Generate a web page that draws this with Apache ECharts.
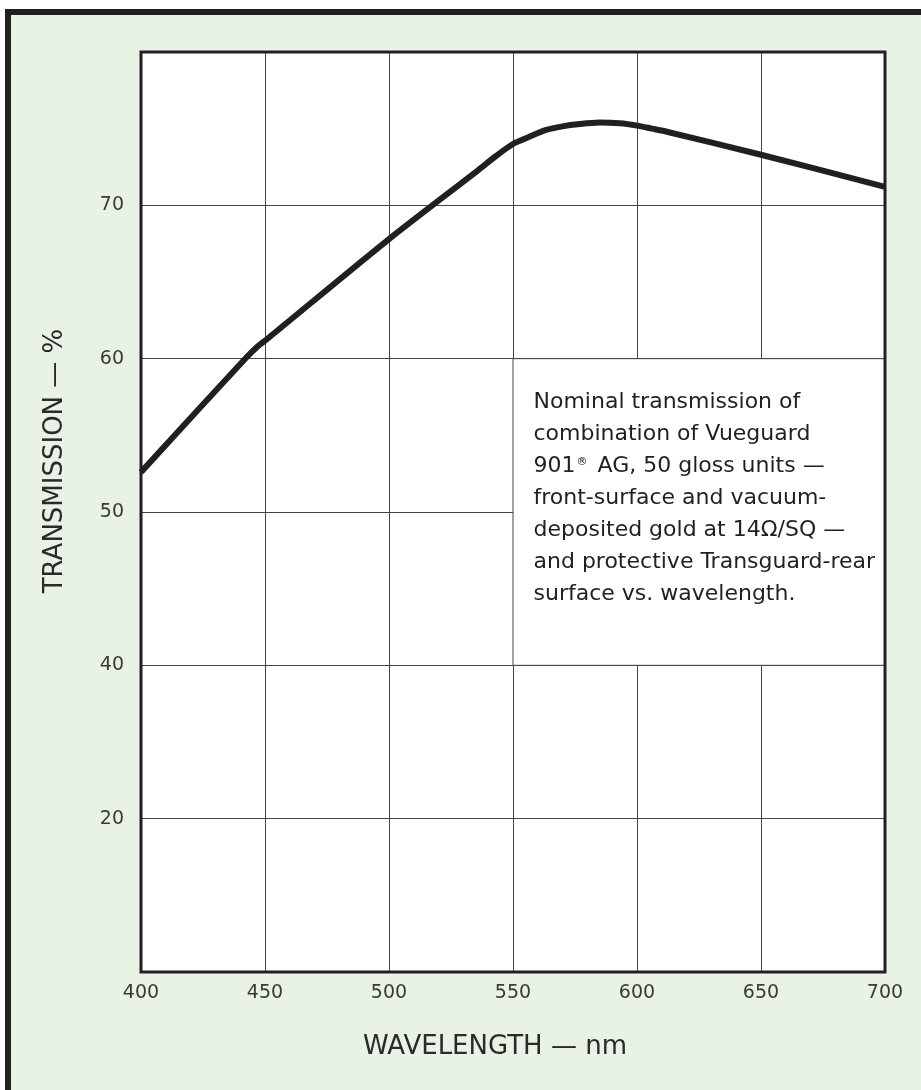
<!DOCTYPE html>
<html>
<head>
<meta charset="utf-8">
<script src="https://cdn.jsdelivr.net/npm/echarts@6/dist/echarts.min.js"></script>
<style>
  html, body { margin: 0; padding: 0; background: #fff; }
  #chart { width: 921px; height: 1090px; }
</style>
</head>
<body>
<div id="chart"></div>
<script>
// 波长 (nm) 和透过率 (%)
var wavelengths = [400, 442, 447, 451, 500, 536, 543, 550, 557, 563, 570, 577, 585, 593, 600, 606, 612, 650, 700]
var transmission = [52.6, 60.0, 60.8, 61.3, 67.8, 72.3, 73.2, 74.0, 74.5, 74.9, 75.15, 75.3, 75.4, 75.35, 75.2, 75.0, 74.8, 73.3, 71.2]

// 坐标轴刻度标签（原图 y 轴在 30 的位置写的是 20）
var xTicks = [400, 450, 500, 550, 600, 650, 700]
var yTickLabels = { 30: '20', 40: '40', 50: '50', 60: '60', 70: '70' }

// 注释文字框的范围
var noteBox = [[550, 60], [700, 40]]
var noteLines = [
  'Nominal transmission of',
  'combination of Vueguard',
  '901{sup|®} AG, 50 gloss units —',
  'front-surface and vacuum-',
  'deposited gold at 14Ω/SQ —',
  'and protective Transguard-rear',
  'surface vs. wavelength.'
]

var W = 921
var H = 1090
var GRID_LEFT = 141
var GRID_RIGHT = 36
var GRID_TOP = 52
var GRID_BOTTOM = 118
var INK = '#231f20'
var FONT = 'DejaVu Sans'

var chart = echarts.init(document.getElementById('chart'), null, { renderer: 'canvas' })

var seriesData = []
for (let i = 0; i < wavelengths.length; i++) {
  seriesData.push([wavelengths[i], transmission[i]])
}

chart.setOption({
  backgroundColor: '#e8f3e6',
  animation: false,
  grid: {
    left: GRID_LEFT,
    right: GRID_RIGHT,
    top: GRID_TOP,
    bottom: GRID_BOTTOM,
    show: true,
    backgroundColor: '#fff',
    borderWidth: 0
  },
  xAxis: {
    type: 'value',
    min: 400,
    max: 700,
    interval: 50,
    axisLine: { show: false },
    axisTick: { show: false },
    splitLine: {
      show: true,
      showMinLine: false,
      showMaxLine: false,
      lineStyle: { color: '#444', width: 1 }
    },
    axisLabel: {
      margin: 12,
      fontFamily: FONT,
      fontSize: 19,
      color: '#3a3a3a',
      formatter: function (v) {
        return xTicks.indexOf(v) >= 0 ? String(v) : ''
      }
    }
  },
  yAxis: {
    type: 'value',
    min: 20,
    max: 80,
    interval: 10,
    axisLine: { show: false },
    axisTick: { show: false },
    splitLine: {
      show: true,
      showMinLine: false,
      showMaxLine: false,
      lineStyle: { color: '#444', width: 1 }
    },
    axisLabel: {
      margin: 17,
      fontFamily: FONT,
      fontSize: 19,
      color: '#3a3a3a',
      formatter: function (v) {
        return yTickLabels[v] || ''
      }
    }
  },
  series: [
    {
      type: 'line',
      data: seriesData,
      symbol: 'none',
      smooth: 0.25,
      clip: false,
      silent: true,
      lineStyle: { color: INK, width: 6, join: 'round' },
      markArea: {
        silent: true,
        itemStyle: { color: '#fff', borderColor: '#444', borderWidth: 1, opacity: 1 },
        label: {
          show: true,
          position: [21, 28],
          align: 'left',
          verticalAlign: 'top',
          fontFamily: FONT,
          fontSize: 22,
          lineHeight: 32,
          color: INK,
          formatter: noteLines.join('\n'),
          rich: {
            sup: {
              fontFamily: FONT,
              fontSize: 11,
              lineHeight: 32,
              color: INK,
              verticalAlign: 'top',
              padding: [6, 3, 0, 1]
            }
          }
        },
        data: [[
          { xAxis: noteBox[0][0], yAxis: noteBox[0][1] },
          { xAxis: noteBox[1][0], yAxis: noteBox[1][1] }
        ]]
      }
    }
  ],
  graphic: [
    // 外框（只有上边和左边）
    { type: 'rect', z: 100, shape: { x: 0, y: 0, width: W, height: 9 }, style: { fill: '#fff' } },
    { type: 'rect', z: 100, shape: { x: 0, y: 0, width: 5, height: H }, style: { fill: '#fff' } },
    { type: 'rect', z: 101, shape: { x: 5, y: 9, width: W - 5, height: 6 }, style: { fill: INK } },
    { type: 'rect', z: 101, shape: { x: 5, y: 9, width: 6, height: H - 9 }, style: { fill: INK } },
    // 绘图区边框
    {
      type: 'rect',
      z: 100,
      shape: {
        x: GRID_LEFT,
        y: GRID_TOP,
        width: W - GRID_LEFT - GRID_RIGHT,
        height: H - GRID_TOP - GRID_BOTTOM
      },
      style: { fill: 'none', stroke: INK, lineWidth: 3 }
    },
    // 坐标轴名称
    {
      type: 'text',
      z: 100,
      x: 495,
      y: 1047,
      style: {
        text: 'WAVELENGTH — nm',
        font: '26px "DejaVu Sans"',
        fill: '#2a2a2a',
        align: 'center',
        verticalAlign: 'middle'
      }
    },
    {
      type: 'text',
      z: 100,
      x: 55,
      y: 461,
      rotation: Math.PI / 2,
      style: {
        text: 'TRANSMISSION — %',
        font: '26px "DejaVu Sans"',
        fill: '#2a2a2a',
        align: 'center',
        verticalAlign: 'middle'
      }
    }
  ]
})
</script>
</body>
</html>
